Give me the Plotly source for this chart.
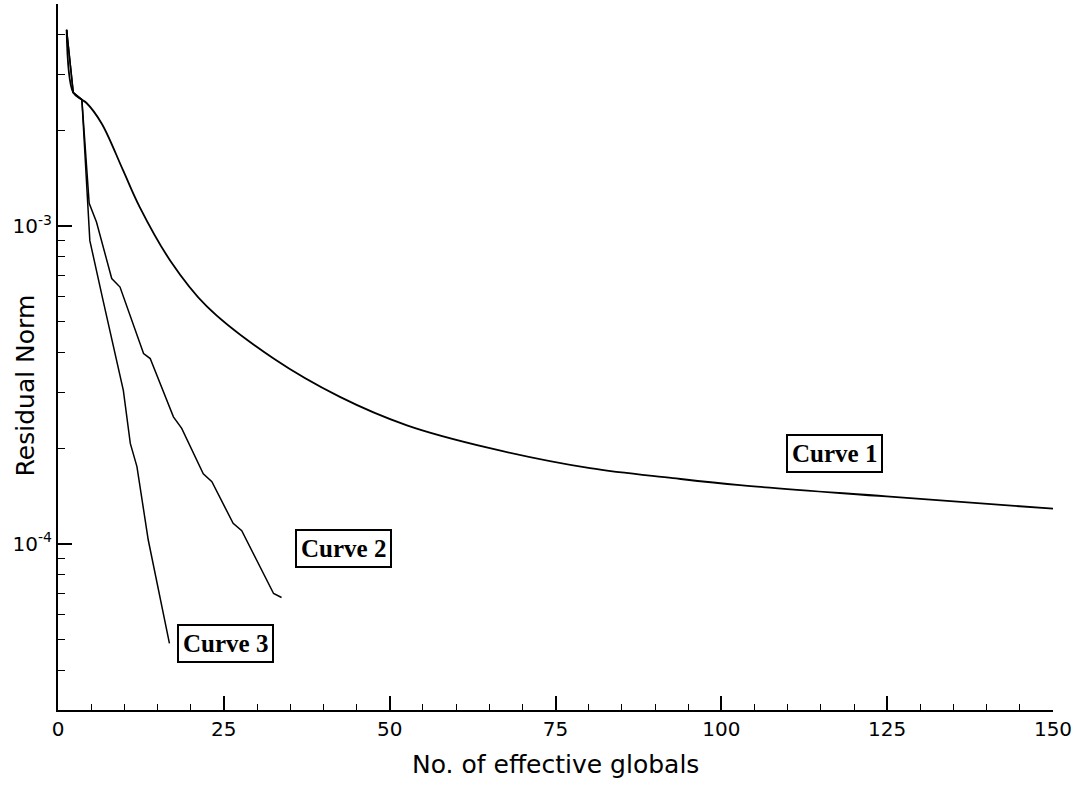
import math
import plotly.graph_objects as go

# ---- data ----
curve1_x = [1.3, 2.3, 3.6, 4.3, 6.6, 9.8, 12.3, 16.9, 22.4, 32.5, 42.5, 52.6, 65.1, 80.2, 92.7, 102.8, 124.9, 150]
curve1_y = [4.15e-3, 2.63e-3, 2.50e-3, 2.44e-3, 2.10e-3, 1.50e-3, 1.15e-3, 7.8e-4, 5.6e-4, 3.83e-4,
            2.90e-4, 2.36e-4, 2.00e-4, 1.73e-4, 1.61e-4, 1.53e-4, 1.41e-4, 1.29e-4]

curve2_x = [1.3, 2.3, 3.6, 4.7, 5.8, 8.1, 9.35, 12.1, 12.9, 13.9, 17.4, 18.65, 21.9, 23.2, 26.4, 27.7, 32.5, 33.7]
curve2_y = [4.15e-3, 2.63e-3, 2.50e-3, 1.18e-3, 1.03e-3, 6.84e-4, 6.43e-4, 4.37e-4, 3.97e-4, 3.83e-4,
            2.51e-4, 2.31e-4, 1.66e-4, 1.57e-4, 1.16e-4, 1.10e-4, 6.98e-5, 6.78e-5]

curve3_x = [1.3, 2.3, 3.6, 4.8, 6.8, 8.1, 9.85, 10.9, 11.9, 13.6, 15.4, 16.8]
curve3_y = [4.15e-3, 2.63e-3, 2.50e-3, 9.0e-4, 5.83e-4, 4.37e-4, 3.04e-4, 2.07e-4, 1.75e-4, 1.03e-4, 6.65e-5, 4.86e-5]

label_text = ["Curve 1", "Curve 2", "Curve 3"]
label_x = [117, 43.1, 25.3]
label_y = [1.93e-4, 9.69e-5, 4.84e-5]

x_tickvals = [0, 25, 50, 75, 100, 125, 150]
y_tickvals = [1e-4, 1e-3]
y_ticktext = ["10<sup>-4</sup>", "10<sup>-3</sup>"]

x_title = "No. of effective globals"
y_title = "Residual Norm"

fig = go.Figure()
for xs, ys, w, shape, sm in [(curve1_x, curve1_y, 1.8, "spline", 1.0),
                             (curve2_x, curve2_y, 1.5, "linear", 0),
                             (curve3_x, curve3_y, 1.5, "linear", 0)]:
    line = dict(color="black", width=w, shape=shape)
    if shape == "spline":
        line["smoothing"] = sm
    fig.add_trace(go.Scatter(x=xs, y=ys, mode="lines", line=line, showlegend=False))

for t, lx, ly in zip(label_text, label_x, label_y):
    fig.add_annotation(x=lx, y=math.log10(ly), xref="x", yref="y", text="<b>" + t + "</b>", showarrow=False,
                       font=dict(family="Liberation Serif", size=25, color="black"),
                       bordercolor="black", borderwidth=2, borderpad=4, bgcolor="white")

fig.add_annotation(x=-0.033, y=0.46, xref="paper", yref="paper", text=y_title, textangle=-90,
                   showarrow=False, xanchor="center", yanchor="middle",
                   font=dict(family="DejaVu Sans", size=25, color="black"))
fig.add_annotation(x=0.5, y=-0.0765, xref="paper", yref="paper", text=x_title,
                   showarrow=False, xanchor="center", yanchor="middle",
                   font=dict(family="DejaVu Sans", size=25, color="black"))

fig.update_layout(
    width=1075, height=786,
    margin=dict(l=58, r=22, t=4, b=76),
    plot_bgcolor="white", paper_bgcolor="white",
    font=dict(family="DejaVu Sans", size=20, color="black"),
)
fig.update_xaxes(range=[0, 150], tickmode="array", tickvals=x_tickvals,
                 ticks="inside", ticklen=14, tickwidth=1.5, tickcolor="black",
                 minor=dict(dtick=5, tick0=0, ticks="inside", ticklen=6, tickwidth=1.2, tickcolor="black"),
                 showline=True, linewidth=2, linecolor="black", showgrid=False, zeroline=False,
                 tickfont=dict(family="DejaVu Sans", size=20))
fig.update_yaxes(type="log", range=[math.log10(3e-5), math.log10(5e-3)],
                 tickmode="array", tickvals=y_tickvals, ticktext=y_ticktext,
                 ticks="inside", ticklen=14, tickwidth=1.5, tickcolor="black",
                 minor=dict(dtick="D1", ticks="inside", ticklen=7, tickwidth=1.2, tickcolor="black"),
                 showline=True, linewidth=2, linecolor="black", showgrid=False, zeroline=False,
                 tickfont=dict(family="DejaVu Sans", size=20))

fig.write_html("out.html")
